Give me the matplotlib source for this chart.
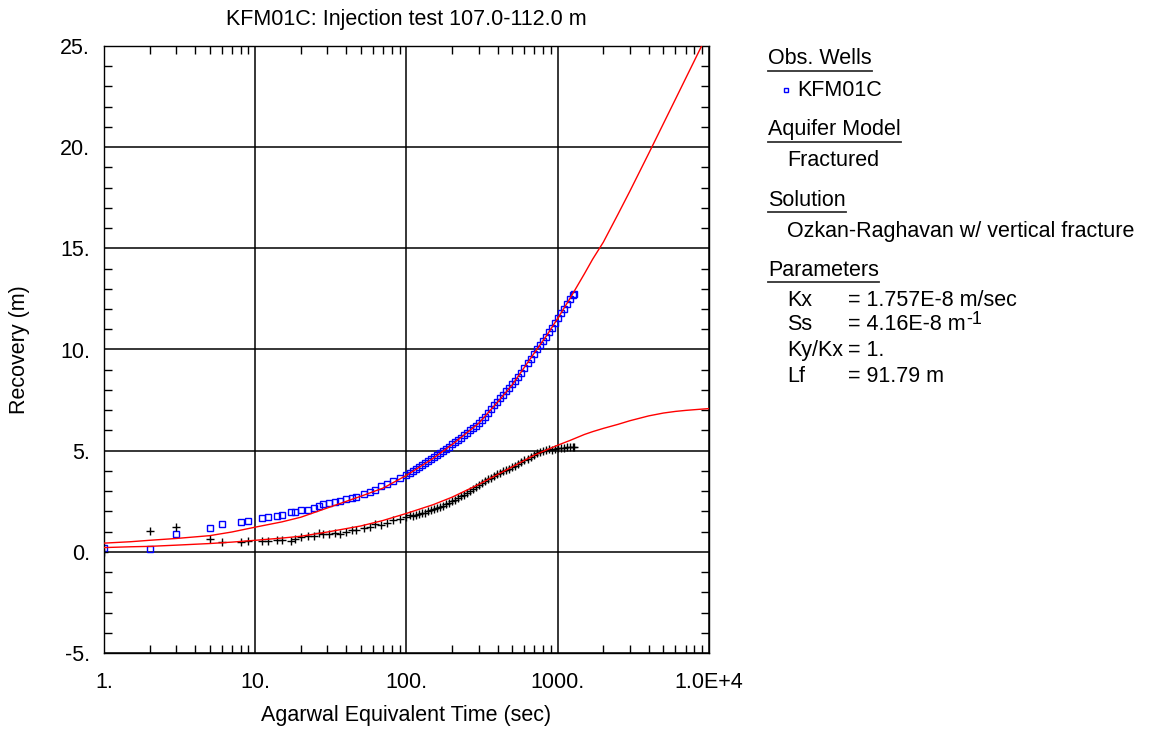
import numpy as np
import matplotlib
matplotlib.use("Agg")
import matplotlib.pyplot as plt
from matplotlib.lines import Line2D
from matplotlib.ticker import LogLocator, NullFormatter, MultipleLocator

plt.rcParams['font.family'] = ['Liberation Sans', 'DejaVu Sans']

# observed recovery (blue squares)
t_obs = [1, 2, 3, 5, 6, 8, 9, 11.1, 12.2, 13.9, 15.1, 17.3, 18.4, 20.2, 22.4, 24.5,
         26.5, 28.1, 30.8, 33.8, 36.6, 40.1, 43.3, 46.7, 52.7, 57.3, 61.7, 67.6, 74, 81, 90,
         100, 104.7, 109.6, 114.8, 120.2, 125.9, 131.8, 138.0, 144.5, 151.4, 158.5, 166.0,
         173.8, 182.0, 190.5, 199.5, 208.9, 218.8, 229.1, 239.9, 251.2, 263.0, 275.4, 288.4,
         302.0, 316.2, 331.1, 346.7, 363.1, 380.2, 398.1, 416.9, 436.5, 457.1, 478.6, 501.2,
         524.8, 549.5, 575.4, 602.6, 631.0, 660.7, 691.8, 724.4, 758.6, 794.3, 831.8, 871.0,
         912.0, 955.0, 1000, 1047, 1096, 1148, 1202, 1259, 1285]
recovery = [0.18, 0.16, 0.89, 1.20, 1.40, 1.47, 1.52, 1.67, 1.72, 1.76, 1.81, 1.96, 1.96,
            2.06, 2.06, 2.16, 2.26, 2.36, 2.41, 2.46, 2.50, 2.60, 2.65, 2.70, 2.85, 2.95,
            3.05, 3.25, 3.35, 3.48, 3.64,
            3.80, 3.90, 3.99, 4.08, 4.18, 4.28, 4.38, 4.48, 4.57, 4.67, 4.78, 4.88, 4.98,
            5.09, 5.20, 5.31, 5.42, 5.53, 5.64, 5.76, 5.87, 6.00, 6.12, 6.24, 6.35, 6.50,
            6.68, 6.87, 7.06, 7.24, 7.40, 7.58, 7.76, 7.94, 8.12, 8.30, 8.46, 8.64, 8.86,
            9.09, 9.31, 9.54, 9.77, 10.00, 10.22, 10.42, 10.64, 10.85, 11.06, 11.30, 11.54,
            11.78, 12.02, 12.26, 12.52, 12.70, 12.75]
# derivative (black crosses)
deriv = [0.00, 1.05, 1.24, 0.63, 0.51, 0.47, 0.53, 0.53, 0.53, 0.59, 0.59, 0.56, 0.64,
         0.72, 0.80, 0.80, 0.92, 0.88, 0.90, 0.92, 0.88, 1.00, 1.08, 1.08, 1.17, 1.25,
         1.38, 1.33, 1.42, 1.55, 1.60,
         1.72, 1.80, 1.76, 1.84, 1.86, 1.90, 1.93, 2.00, 2.05, 2.12, 2.15, 2.22, 2.28,
         2.36, 2.42, 2.50, 2.58, 2.66, 2.74, 2.82, 2.92, 3.02, 3.10, 3.20, 3.30, 3.40,
         3.50, 3.60, 3.66, 3.74, 3.84, 3.90, 3.98, 4.05, 4.10, 4.18, 4.24, 4.34, 4.44,
         4.52, 4.60, 4.70, 4.80, 4.88, 4.92, 4.98, 5.02, 5.06, 5.04, 5.10, 5.12, 5.14,
         5.12, 5.16, 5.17, 5.18, 5.20]

# type curves (red)
t_fit = [1, 1.5, 2, 3, 5, 7, 10, 15, 20, 30, 50, 70, 100, 150, 200, 300, 400, 500, 700,
         850, 1000, 1200, 1500, 1700, 2000, 2500, 3000, 4000, 5000, 6000, 7000, 8500, 10000]
fit_recovery = [0.43, 0.50, 0.57, 0.66, 0.80, 0.98, 1.22, 1.48, 1.71, 2.17, 2.75, 3.15,
                3.78, 4.62, 5.30, 6.35, 7.40, 8.25, 9.83, 10.72, 11.54, 12.50, 13.74, 14.46,
                15.30, 16.68, 17.83, 19.70, 21.17, 22.37, 23.39, 24.67, 25.75]
fit_deriv = [0.21, 0.25, 0.27, 0.33, 0.41, 0.48, 0.57, 0.68, 0.77, 0.98, 1.28, 1.55,
             1.90, 2.33, 2.70, 3.33, 3.82, 4.20, 4.78, 5.05, 5.27, 5.50, 5.80, 5.94,
             6.10, 6.30, 6.48, 6.72, 6.86, 6.94, 6.99, 7.04, 7.08]

y_ticks = [-5, 0, 5, 10, 15, 20, 25]
y_labels = ['-5.', '0.', '5.', '10.', '15.', '20.', '25.']
x_ticks = [1, 10, 100, 1000, 10000]
x_labels = ['1.', '10.', '100.', '1000.', '1.0E+4']

FS = 15.5
W, H = 1150, 729
fig = plt.figure(figsize=(W / 100, H / 100), dpi=100)
ax = fig.add_axes([104 / W, 1 - 653 / H, 605 / W, 607 / H])

ax.plot(t_fit, fit_recovery, color='red', lw=1, zorder=3)
ax.plot(t_fit, fit_deriv, color='red', lw=1, zorder=3)
ax.plot(t_obs, recovery, ls='none', marker='s', ms=4, mfc='none', mec='#0000ff',
        mew=1, zorder=2)
ax.plot(t_obs, deriv, ls='none', marker='+', ms=5.5, color='black', mew=1, zorder=2)

ax.set_xscale('log')
ax.set_xlim(1, 10000)
ax.set_ylim(-5, 25)
ax.set_xticks(x_ticks, x_labels)
ax.set_yticks(y_ticks, y_labels)
ax.xaxis.set_minor_locator(LogLocator(base=10, subs=np.arange(2, 10)))
ax.xaxis.set_minor_formatter(NullFormatter())
ax.yaxis.set_minor_locator(MultipleLocator(1))
ax.grid(True, which='major', color='black', lw=1.1)
ax.tick_params(which='both', direction='in', top=True, right=True, labelsize=FS, width=1)
ax.tick_params(which='major', length=0)
ax.tick_params(which='minor', length=6)
ax.tick_params(axis='x', pad=14)
ax.tick_params(axis='y', pad=10)
for s in ax.spines.values():
    s.set_linewidth(1)

fig.text(406 / W, 1 - 20 / H, 'KFM01C: Injection test 107.0-112.0 m', ha='center',
         va='center', fontsize=FS)
fig.text(406 / W, 1 - 716 / H, 'Agarwal Equivalent Time (sec)', ha='center',
         va='center', fontsize=FS)
fig.text(20 / W, 1 - 350 / H, 'Recovery (m)', ha='center', va='center',
         rotation=90, fontsize=FS)

# info panel on the right
def fy(y):
    return 1 - y / H

renderer = fig.canvas.get_renderer()
headings = [('Obs. Wells', 59), ('Aquifer Model', 130), ('Solution', 200), ('Parameters', 270)]
for txt, y in headings:
    t = fig.text(768 / W, fy(y), txt, ha='left', va='center', fontsize=FS)
    bb = t.get_window_extent(renderer)
    fig.add_artist(Line2D([768 / W, bb.x1 / W], [fy(y + 12)] * 2, color='#333333',
                          lw=1.3, transform=fig.transFigure))

fig.add_artist(Line2D([786 / W], [fy(90)], marker='s', ms=3.5, mfc='none', mec='#0000ff',
                      mew=1, transform=fig.transFigure))
fig.text(797 / W, fy(90), 'KFM01C', ha='left', va='center', fontsize=FS)
fig.text(787 / W, fy(161), 'Fractured', ha='left', va='center', fontsize=FS)
fig.text(787 / W, fy(232), 'Ozkan-Raghavan w/ vertical fracture', ha='left',
         va='center', fontsize=FS)

param_names = ['Kx', 'Ss', 'Ky/Kx', 'Lf']
param_values = ['= 1.757E-8 m/sec', '= 4.16E-8 m', '= 1.', '= 91.79 m']
param_y = [300, 325, 351, 377]
for name, val, y in zip(param_names, param_values, param_y):
    fig.text(787 / W, fy(y), name, ha='left', va='center', fontsize=FS)
    t = fig.text(848 / W, fy(y), val, ha='left', va='center', fontsize=FS)
    if name == 'Ss':
        bb = t.get_window_extent(renderer)
        fig.text(bb.x1 / W + 1 / W, fy(y + 3), '-1', ha='left', va='bottom',
                 fontsize=13)

fig.savefig('out.png', dpi=100)
